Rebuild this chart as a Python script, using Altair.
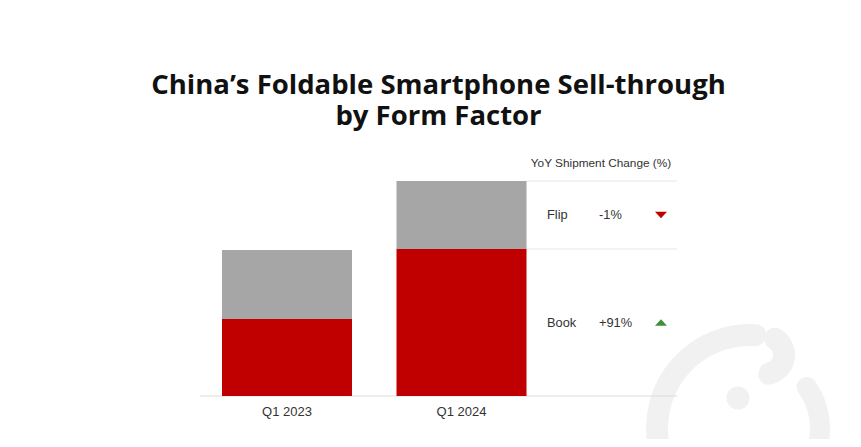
import altair as alt
import pandas as pd

# ---- data ----
quarters = ["Q1 2023", "Q1 2024"]
segments = ["Book", "Flip"]
book_values = [77, 147]
flip_values = [69, 68]
yoy_labels = ["+91%", "-1%"]        # Book, Flip
yoy_shapes = ["up", "down"]
title_lines = ["China\u2019s Foldable Smartphone Sell-through", "by Form Factor"]
table_header = "YoY Shipment Change (%)"

RED = "#c00000"
GRAY = "#a6a6a6"
GREEN = "#3f8f3f"
WM = "#f1f1f1"
TXT = "#333333"

W, H = 477, 246

rows = []
for i, q in enumerate(quarters):
    rows.append({"quarter": q, "segment": "Book", "value": book_values[i], "order": 0})
    rows.append({"quarter": q, "segment": "Flip", "value": flip_values[i], "order": 1})
bar_df = pd.DataFrame(rows)

# table rows aligned with the Q1 2024 stack
b, f = book_values[-1], flip_values[-1]
table_df = pd.DataFrame({
    "segment": segments,
    "lo": [0, b],
    "hi": [b, b + f],
    "pct": yoy_labels,
    "dir": yoy_shapes,
})
table_df["mid"] = (table_df["lo"] + table_df["hi"]) / 2
lines_df = pd.DataFrame({"v": [b, b + f]})

yscale = alt.Scale(domain=[0, H], nice=False, zero=True)

bars = alt.Chart(bar_df).mark_bar().encode(
    x=alt.X("quarter:N",
            scale=alt.Scale(domain=quarters, range=[0, 348.5], paddingInner=0.255, paddingOuter=0.126),
            axis=alt.Axis(title=None, labelAngle=0, domain=False, ticks=False,
                          labelFontSize=13, labelColor=TXT, labelPadding=9,
                          labelFont="Liberation Sans")),
    y=alt.Y("value:Q", stack="zero", scale=yscale, axis=None),
    color=alt.Color("segment:N", scale=alt.Scale(domain=segments, range=[RED, GRAY]), legend=None),
    order=alt.Order("order:Q"),
)

baseline = alt.Chart(pd.DataFrame({"v": [0]})).mark_rule(color="#dcdcdc", strokeWidth=1).encode(
    x=alt.value(0), x2=alt.value(W), y=alt.Y("v:Q", scale=yscale, axis=None)
)

tlines = alt.Chart(lines_df).mark_rule(color="#e6e6e6", strokeWidth=1).encode(
    x=alt.value(326), x2=alt.value(W), y=alt.Y("v:Q", scale=yscale, axis=None)
)

header = alt.Chart(pd.DataFrame({"t": [table_header]})).mark_text(
    font="Liberation Sans", fontSize=11.8, color=TXT, align="center", baseline="middle"
).encode(x=alt.value(401), y=alt.value(13), text="t:N")

seg_text = alt.Chart(table_df).mark_text(
    font="Liberation Sans", fontSize=12.8, color=TXT, align="left", baseline="middle"
).encode(x=alt.value(347), y=alt.Y("mid:Q", scale=yscale, axis=None), text="segment:N")

pct_text = alt.Chart(table_df).mark_text(
    font="Liberation Sans", fontSize=12.8, color=TXT, align="left", baseline="middle"
).encode(x=alt.value(399), y=alt.Y("mid:Q", scale=yscale, axis=None), text="pct:N")

tri_down = alt.Chart(table_df).transform_filter(alt.datum.dir == "down").mark_point(
    shape="M-1,-0.55L1,-0.55L0,0.55Z", filled=True, opacity=1, size=144, color=RED, strokeWidth=0
).encode(x=alt.value(461), y=alt.Y("mid:Q", scale=yscale, axis=None))

tri_up = alt.Chart(table_df).transform_filter(alt.datum.dir == "up").mark_point(
    shape="M-1,0.55L1,0.55L0,-0.55Z", filled=True, opacity=1, size=144, color=GREEN, strokeWidth=0
).encode(x=alt.value(461), y=alt.Y("mid:Q", scale=yscale, axis=None))

# watermark logo (decorative)
one = pd.DataFrame({"a": [0]})
wm_main = alt.Chart(one).mark_arc(innerRadius=82, outerRadius=104, cornerRadius=11, color=WM).encode(
    x=alt.value(550), y=alt.value(278), theta=alt.value(3.49), theta2=alt.value(6.46)
)
wm_hook = alt.Chart(one).mark_arc(innerRadius=8, outerRadius=30, cornerRadius=10, color=WM).encode(
    x=alt.value(565), y=alt.value(205), theta=alt.value(0.0), theta2=alt.value(3.5)
)
wm_right = alt.Chart(one).mark_arc(innerRadius=60, outerRadius=80, cornerRadius=10, color=WM).encode(
    x=alt.value(550), y=alt.value(278), theta=alt.value(0.8), theta2=alt.value(2.45)
)
wm_dot = alt.Chart(one).mark_point(shape="circle", filled=True, opacity=1, size=530, color=WM, strokeWidth=0).encode(
    x=alt.value(538), y=alt.value(248)
)

chart = alt.layer(
    wm_main, wm_hook, wm_right, wm_dot,
    baseline, tlines, bars, header, seg_text, pct_text, tri_down, tri_up
).properties(
    width=W, height=H,
    title=alt.TitleParams(text=title_lines, font="Open Sans", fontSize=27.5, fontWeight="bold",
                          color="#111111", anchor="middle", frame="group", lineHeight=31, offset=20),
    autosize=alt.AutoSizeParams(type="none"),
    padding={"left": 192, "top": 142, "right": 176, "bottom": 43},
).configure(background="white").configure_view(strokeWidth=0, stroke="transparent")

chart.save("out.html", embed_options={"renderer": "svg", "actions": False})
